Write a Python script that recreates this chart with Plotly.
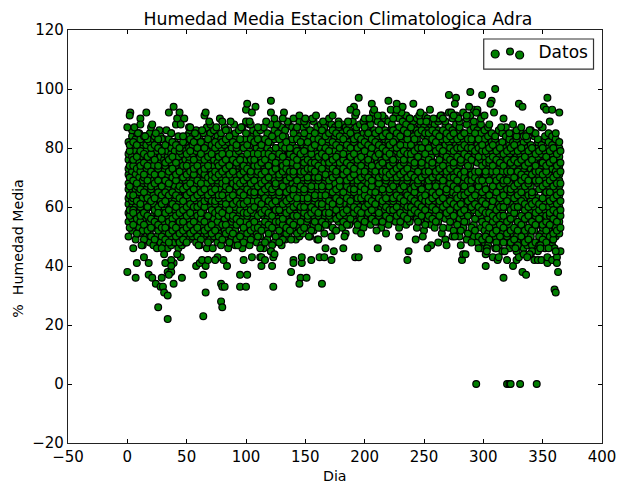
import plotly.graph_objects as go

# Points that can be told apart at the edge of the cloud (day, % humidity)
dias_arriba = [2.5,2,0,6,11,11,16,21,27,24,37,35,39,44,42,48,45,53,65,66,69,78,80,87,100,101,108,105,100,103,121,121,132,124,131,140,145,150,
               159,173,195,191,188,193,206,208,204,211,220,227,232,222,227,241,247,255,266,275,271,277,276,288,289,299,307,306,310,295,294,301,309,317,330,333,354,351,353,358,364,356,347,325,332,339]
humedad_arriba = [92,91,87,87,90,88,92,88,86,85,85,92,94,92,90,90,88,87,91,92,89,90,89,89,93,95,94,92,89,89,96,92,92,90,90,90,91,90,
                  91,91,97,94,93,92,95,93,90,91,96,95,94,93,93,95,92,93,90,91,98,97,95,94,99,98,96,95,100,93,92,91,92,90,95,94,97,94,93,93,92,89,88,88,87,86]
dias_abajo = [0,7,8,5,14,18,18,21,24,28,30,31,34,26,34,29,34,37,35,39,46,39,32,31,37,37,45,42,58,61,63,66,64,66,64,68,76,74,81,84,79,80,82,79,80,98,95,100,95,101,105,113,113,116,122,121,123,124,123,138,140,140,147,147,146,145,151,155,
              162,166,164,172,174,167,182,192,195,211,236,237,253,269,282,283,285,302,302,303,308,312,313,317,320,325,328,330,334,333,336,339,337,343,346,349,354,354,354,358,362,362,363,360,361,365,361,348,355,311]
humedad_abajo = [38,36,41,46,43,41,37,36,34,33,33,31,30,26,22,36,38,38,37,34,36,41,41,44,42,40,43,44,40,41,42,40,37,31,23,42,43,42,42,40,34,33,33,28,26,42,33,33,37,37,43,40,43,42,40,45,43,44,33,38,42,41,41,43,36,34,36,42,
                 43,43,34,42,45,46,46,43,43,46,42,45,46,47,42,44,44,44,40,45,43,42,43,36,42,40,42,43,44,38,37,44,43,42,42,42,42,41,43,42,43,41,38,32,31,45,45,46,46,46]
dias_cero = [294,320,322,323,331,345]
humedad_cero = [0,0,0,0,0,0]

# Scattered points just outside the solid core
dias_borde = [4,9,15,20,26,33,41,47,52,57,63,70,75,83,90,96,104,110,117,126,135,143,149,156,165,170,178,186,192,200,207,215,224,231,238,246,252,258,264,273,279,286,292,298,305,315,322,328,336,344,350,
              12,29,50,60,72,86,93,112,128,138,153,161,176,183,197,210,218,229,243,249,256,262,268,276,281,290,296,303,318,327,341,348,360]
humedad_borde = [86,85,84,87,83,86,88,84,87,85,86,88,87,86,88,87,88,87,89,88,89,87,89,90,89,90,88,89,91,90,92,91,90,92,90,91,89,90,91,92,90,91,93,90,88,87,85,86,84,85,87,
                 47,46,48,47,46,48,47,46,48,49,50,49,52,50,51,52,51,50,49,50,47,48,49,50,47,48,46,46,45,46,45,47,46]

# Dense core: estimated values, one row per sampled day
dias_nucleo = [1,4,7,10,13,16,19,22,25,28,31,34,37,40,43,46,49,52,55,58,61,64,67,70,73,76,79,82,85,88,91,94,97,100,103,106,109,112,115,118,121,
               124,127,130,133,136,139,142,145,148,151,154,157,160,163,166,169,172,175,178,181,184,187,190,193,196,199,202,205,208,211,214,217,220,223,226,229,232,235,238,241,
               244,247,250,253,256,259,262,265,268,271,274,277,280,283,286,289,292,295,298,301,304,307,310,313,316,319,322,325,328,331,334,337,340,343,346,349,352,355,358,361,364]
humedad_nucleo = [
[50,55,58,61,63,66,68,71,73,76,78,82],[52,56,60,62,65,67,70,72,75,77,80,84],[49,54,57,60,64,66,69,71,74,76,79,83],[51,53,58,62,65,68,70,73,75,78,81,85],
[47,52,56,59,63,67,69,72,74,77,80,82],[50,54,59,61,64,66,71,73,76,79,81,84],[48,51,55,60,62,65,68,70,75,77,82,85],[47,53,57,61,64,67,69,72,74,78,80,83],
[46,50,56,58,63,66,70,71,76,79,81,82],[48,52,54,59,62,65,68,73,75,77,80,84],[47,51,55,60,61,64,67,70,72,76,78,83],[46,49,53,57,62,66,69,71,74,77,79,81],
[47,50,54,58,60,63,68,72,75,78,80,85],[48,52,55,59,62,65,67,70,73,76,79,82],[46,49,53,56,61,64,66,69,74,77,81,84],[47,51,54,57,60,63,68,71,73,75,78,80],
[48,50,55,58,62,65,69,72,76,79,82,83],[49,52,56,60,63,66,70,73,75,77,80,85],[50,53,57,59,61,67,69,71,74,78,81,84],[48,51,55,58,62,65,68,72,76,79,82,86],
[47,52,54,60,63,66,70,73,75,77,80,83],[50,53,56,59,64,67,69,71,74,78,82,85],[46,51,55,61,62,65,68,72,76,79,81,87],[49,52,57,60,63,66,70,73,75,77,83,85],
[50,54,56,59,64,68,71,74,76,78,80,86],[48,53,55,61,65,67,69,72,75,79,82,84],[47,51,57,60,62,66,70,73,77,80,83,85],[49,52,56,58,63,65,68,71,74,78,81,87],
[46,54,57,61,64,67,69,72,76,79,82,86],[50,53,55,59,62,66,70,74,75,77,80,84],[47,52,58,60,65,68,71,73,76,78,83,85],[48,50,54,57,63,66,69,72,74,79,81,86],
[46,51,56,59,62,67,70,73,75,77,82,87],[49,53,55,60,64,65,68,71,76,80,83,85],[47,54,57,61,63,66,69,74,77,79,81,88],[50,52,56,58,62,67,72,73,75,78,84,86],
[48,51,55,60,65,68,70,71,76,80,82,85],[43,50,54,59,63,66,69,73,77,79,83,86],[46,53,57,61,64,67,71,74,75,78,81,87],[49,52,56,60,62,65,68,72,76,80,84,85],
[45,51,55,58,63,68,70,73,75,79,82,88],[48,53,57,60,64,66,69,71,77,78,83,86],[50,54,56,61,62,67,72,74,76,80,85,88],[47,52,58,59,65,68,70,73,75,79,81,87],
[49,51,55,60,63,66,71,72,77,80,84,86],[50,53,57,61,64,67,69,74,76,78,82,88],[52,54,56,59,62,68,70,73,75,81,83,87],[49,55,58,60,65,67,71,72,78,80,85,86],
[50,53,57,62,64,66,69,74,76,79,84,89],[51,54,56,61,63,68,70,73,77,81,83,87],[53,55,58,60,65,67,72,75,78,80,85,88],[50,56,59,62,64,69,71,74,76,82,84,86],
[52,54,57,61,66,68,70,73,77,79,83,89],[49,55,60,63,65,67,72,75,78,81,85,87],[53,56,58,62,64,69,71,74,76,80,84,88],[51,57,59,61,66,68,73,75,79,82,86,87],
[54,55,60,63,65,70,72,76,77,81,83,89],[50,56,58,62,67,69,71,74,78,80,85,88],[52,57,61,64,66,68,73,75,79,83,84,87],[55,58,60,63,65,70,72,76,78,82,86,89],
[53,56,59,62,67,69,74,75,80,81,85,88],[51,57,61,64,66,71,73,77,79,83,84,87],[54,58,60,65,68,70,72,76,78,82,86,88],[56,59,62,63,67,69,74,75,80,84,85,89],
[52,55,61,64,66,71,73,77,79,81,86,87],[55,57,60,65,68,70,72,76,78,83,84,88],[53,58,62,63,67,69,74,75,80,82,85,89],[56,59,61,64,66,72,73,77,79,84,86,87],
[54,57,60,65,68,71,75,76,78,81,85,88],[58,59,62,63,67,70,73,74,80,83,86,90],[55,56,61,66,69,72,75,77,79,82,84,89],[53,58,60,64,68,70,73,76,78,85,87,88],
[56,59,62,65,67,71,74,75,81,83,86,90],[54,57,61,63,69,72,76,77,79,82,85,89],[58,60,64,66,68,70,73,78,80,84,87,88],[55,59,62,65,67,71,75,76,81,83,86,91],
[53,57,61,64,69,72,74,77,79,85,87,90],[56,58,60,66,68,70,73,78,80,82,84,89],[54,59,63,65,67,71,75,76,81,86,88,91],[55,57,62,64,69,72,74,77,79,83,85,90],
[58,60,61,66,68,73,76,78,80,84,87,89],[53,56,63,65,70,71,74,75,82,83,86,90],[55,59,62,64,67,72,77,79,81,85,88,89],[52,57,60,66,69,73,75,76,80,84,87,91],
[56,58,63,65,68,70,74,78,82,83,86,90],[54,59,61,67,71,72,76,77,79,85,88,89],[53,57,62,64,69,73,75,80,81,84,87,88],[55,60,63,66,68,70,74,78,82,86,89,90],
[51,58,61,65,67,72,76,77,80,83,85,91],[56,59,62,64,70,73,75,79,81,84,88,89],[53,57,60,66,69,71,74,78,82,85,87,92],[50,55,63,65,68,72,76,77,80,83,86,90],
[52,58,61,64,67,70,75,79,81,84,88,91],[50,56,59,66,69,73,74,78,82,86,87,89],[53,57,62,65,68,71,76,77,80,83,85,92],[49,55,60,63,70,72,75,79,81,84,88,90],
[51,58,61,64,67,73,74,78,82,85,86,91],[50,54,59,66,69,71,76,77,80,83,87,89],[48,56,62,65,68,70,75,79,81,84,86,92],[46,53,57,60,63,67,72,76,78,82,85,88],
[48,52,55,59,64,68,70,74,77,80,83,86],[47,51,56,61,65,66,71,73,78,81,84,87],[49,53,58,60,62,69,72,75,76,79,82,85],[46,50,54,57,63,67,70,74,77,80,83,84],
[47,52,56,59,61,65,68,73,75,78,81,86],[45,51,55,58,62,66,71,72,76,79,82,85],[48,50,53,60,64,67,69,74,77,80,84,87],[46,49,54,57,63,68,70,73,75,78,81,83],
[47,51,56,59,61,65,72,74,76,79,82,85],[45,50,53,58,62,66,69,71,77,80,83,84],[48,52,55,60,64,67,70,73,75,78,81,86],[46,49,54,57,63,65,68,72,76,79,82,84],
[47,51,56,58,61,66,71,74,77,80,83,85],[44,50,53,59,62,67,69,73,75,78,81,86],[46,52,55,60,64,65,70,72,76,79,84,85],[45,48,54,57,63,68,71,74,77,80,82,83],
[47,51,56,58,61,66,69,73,75,78,81,87],[46,50,53,59,62,64,70,72,76,79,83,84],[48,52,55,60,63,67,71,74,77,80,82,85],[47,49,54,57,61,65,68,73,75,78,81,84],
[50,53,56,59,62,66,70,72,76,79,83,85],[51,55,58,60,64,67,69,71,74,77,80,82]]

# Second estimated layer between the rows above, to close the gaps in the core
dias_relleno = [2,5,8,11,14,17,20,23,26,29,32,35,38,41,44,47,50,53,56,59,62,65,68,71,74,77,80,83,86,89,92,95,98,101,104,107,110,113,116,119,122,
                125,128,131,134,137,140,143,146,149,152,155,158,161,164,167,170,173,176,179,182,185,188,191,194,197,200,203,206,209,212,215,218,221,224,227,230,233,236,239,242,
                245,248,251,254,257,260,263,266,269,272,275,278,281,284,287,290,293,296,299,302,305,308,311,314,317,320,323,326,329,332,335,338,341,344,347,350,353,356,359,362,365]
humedad_relleno = [
[53,57,59,64,67,70,74,79,81],[54,59,63,64,69,74,76,82,58],[51,56,62,67,68,73,77,81,85],[55,60,61,66,72,74,79,83,57],
[49,54,58,65,70,71,75,78,84],[52,57,63,68,69,74,77,83,60],[50,53,62,66,67,72,78,80,56],[49,55,59,63,68,71,76,81,84],
[52,54,60,65,69,73,74,80,58],[50,56,61,64,67,71,79,83,53],[49,53,58,62,69,74,75,81,65],[48,55,59,64,68,72,76,83,51],
[52,56,61,65,70,73,77,82,54],[50,57,60,64,69,71,75,81,53],[48,51,58,63,67,72,79,80,55],[49,55,59,62,66,70,74,82,52],
[53,57,60,64,67,71,74,78,84],[51,54,58,61,65,68,72,79,83],[52,55,60,63,66,71,73,76,82],[50,53,57,60,64,69,74,80,84],
[49,56,58,61,65,68,72,78,82],[52,55,60,62,66,71,73,76,80],[48,53,57,63,64,70,74,77,83],[51,54,59,62,65,69,71,78,81],
[52,58,61,62,66,70,72,80,82],[50,57,59,63,64,71,74,77,81],[49,54,58,64,68,72,75,78,82],[51,54,60,61,67,69,73,76,83],
[48,52,59,63,66,71,74,78,84],[51,56,57,61,64,68,72,76,82],[49,54,56,62,67,69,75,80,81],[50,55,59,61,65,68,71,76,83],
[48,53,58,61,64,69,72,74,80],[51,57,58,62,66,70,73,78,81],[49,52,59,65,68,71,72,76,83],[53,55,60,64,65,69,74,76,82],
[50,53,57,62,67,72,74,78,83],[47,52,58,61,65,68,71,75,81],[48,55,59,63,66,69,72,76,83],[51,54,58,62,67,70,74,78,82],
[47,53,57,61,65,66,72,77,84],[50,55,59,62,67,68,73,75,80],[52,55,59,64,65,70,71,78,83],[49,54,56,61,67,72,74,77,84],
[51,53,58,62,65,69,73,75,82],[52,55,59,63,66,70,72,78,80],[54,57,60,64,66,71,72,77,85],[51,57,61,63,69,74,76,79,83],
[52,55,59,60,67,71,72,78,82],[53,58,60,65,66,72,75,79,85],[56,57,62,63,69,70,73,76,82],[52,58,60,66,67,73,75,78,80],
[55,59,63,64,70,72,75,81,85],[53,57,58,61,69,70,74,77,83],[55,60,61,66,67,73,78,82,86],[54,58,63,64,70,71,77,80,84],
[57,58,62,67,69,74,75,79,85],[53,60,61,65,70,73,76,82,86],[56,59,63,66,71,72,77,81,85],[57,61,62,67,69,74,75,80,84],
[55,58,64,65,71,73,76,78,83],[54,59,63,67,69,72,75,81,86],[56,61,62,66,70,74,77,80,85],[58,60,65,66,71,73,78,82,83],
[54,59,63,68,69,75,76,80,84],[56,58,63,67,70,74,77,81,83],[55,60,64,66,71,72,79,82,87],[58,61,63,68,70,75,76,81,85],
[56,59,62,67,69,73,74,80,83],[55,61,64,65,71,72,77,82,85],[57,58,63,68,70,74,78,81,86],[55,61,62,66,71,72,75,80,84],
[57,60,63,69,70,72,77,79,85],[56,59,65,66,71,74,78,81,84],[59,62,63,67,72,75,76,82,86],[57,60,64,69,70,73,79,80,85],
[55,58,63,66,71,74,78,81,84],[57,61,62,67,72,75,76,79,86],[56,60,64,69,70,73,78,83,85],[58,60,63,66,71,76,78,81,87],
[59,62,65,67,70,74,75,79,83],[55,58,61,68,69,72,77,80,85],[57,60,63,66,70,74,75,80,86],[54,59,62,64,71,72,78,82,85],
[57,61,62,67,69,72,76,80,85],[56,60,63,65,70,74,75,83,86],[55,59,64,67,71,72,79,82,85],[57,61,62,65,70,73,76,80,84],
[53,60,63,67,69,74,78,79,86],[58,61,65,66,71,72,77,83,85],[55,59,62,68,70,73,76,80,84],[52,57,61,67,70,74,75,79,85],
[54,60,63,66,69,72,77,80,83],[52,58,61,64,71,75,76,80,84],[55,59,64,67,70,72,78,81,85],[51,57,62,65,69,74,77,80,83],
[53,60,63,66,69,71,76,80,83],[52,56,61,64,70,72,78,79,85],[50,58,60,67,69,72,77,80,83],[49,55,59,62,65,69,74,79,81],
[50,54,58,61,66,71,72,75,79],[49,53,58,63,64,69,75,76,80],[51,55,57,62,66,67,74,77,81],[48,52,56,59,65,69,72,76,79],
[50,54,57,60,63,67,70,75,80],[48,53,57,60,64,68,69,74,78],[50,51,55,62,66,69,72,76,79],[48,52,56,59,65,66,72,75,80],
[49,53,58,60,63,67,70,76,81],[47,52,55,60,64,68,72,75,79],[50,54,57,62,65,69,71,76,80],[48,52,56,59,61,67,70,74,77],
[49,53,57,60,64,68,69,75,79],[47,52,55,61,64,65,71,76,80],[48,54,57,58,62,69,72,74,78],[47,50,56,59,61,66,69,72,79],
[49,53,54,60,63,67,71,75,80],[48,52,55,57,65,68,72,74,77],[50,54,57,58,62,65,69,75,79],[49,51,56,59,63,67,70,76,80],
[52,55,58,61,64,68,71,74,78],[53,57,59,62,65,68,72,75,79]]

titulo = "Humedad Media Estacion Climatologica Adra"
etiqueta_x = "Dia"
etiqueta_y = "%  Humedad Media"
nombre_serie = "Datos"

x = []
y = []
for dias, filas in ((dias_nucleo, humedad_nucleo), (dias_relleno, humedad_relleno)):
    for dia, valores in zip(dias, filas):
        for v in valores:
            x.append(dia)
            y.append(v)
x += dias_borde + dias_arriba + dias_abajo + dias_cero
y += humedad_borde + humedad_arriba + humedad_abajo + humedad_cero

FONT = "DejaVu Sans"
W, H = 617, 485
L, R, T, B = 67.5, 602.5, 30, 442.7

fig = go.Figure(go.Scatter(
    x=x, y=y, mode="markers", name=nombre_serie, showlegend=True,
    marker=dict(color="#007f00", size=6.8, line=dict(color="black", width=1.2)),
))

def eje(rango, paso):
    return dict(range=rango, dtick=paso, tick0=0, showgrid=False, zeroline=False, automargin=False,
                ticks="inside", ticklen=4, tickwidth=1, tickcolor="black",
                showline=True, linecolor="#222222", linewidth=1.2, mirror="ticks",
                tickfont=dict(family=FONT, size=15, color="black"))

def px_x(px):
    return (px - L) / (R - L)

def px_y(py):
    return (B - py) / (B - T)

def circulo(px, py):
    r = 4
    return dict(type="circle", xref="paper", yref="paper",
                x0=px_x(px - r), x1=px_x(px + r), y0=px_y(py + r), y1=px_y(py - r),
                fillcolor="#007f00", line=dict(color="black", width=1.2), layer="above")

caja_leyenda = dict(type="rect", xref="paper", yref="paper",
                    x0=px_x(484), x1=px_x(594), y0=px_y(69), y1=px_y(39),
                    fillcolor="white", line=dict(color="#333333", width=1.2), layer="above")

fig.update_layout(
    width=W, height=H, autosize=False,
    paper_bgcolor="white", plot_bgcolor="white",
    margin=dict(l=L, r=W - R, t=T, b=H - B, pad=0, autoexpand=False),
    title=dict(text=titulo, x=338 / W, xanchor="center", y=1 - 19 / H, yanchor="middle", automargin=False,
               font=dict(family=FONT, size=17.3, color="black")),
    xaxis=eje([-50, 400], 50),
    yaxis=eje([-20, 120], 20),
    legend=dict(x=px_x(594), xanchor="right", y=px_y(34), yanchor="top",
                bgcolor="rgba(0,0,0,0)", borderwidth=0,
                font=dict(family=FONT, size=17, color="black"), itemwidth=47),
    shapes=[caja_leyenda, circulo(495.5, 54), circulo(520, 55)],
    annotations=[
        dict(text=etiqueta_x, xref="paper", yref="paper", x=px_x(335), y=px_y(476),
             xanchor="center", yanchor="middle", showarrow=False, font=dict(family=FONT, size=14.2, color="black")),
        dict(text=etiqueta_y, xref="paper", yref="paper", x=px_x(18), y=px_y(248),
             xanchor="center", yanchor="middle", textangle=-90, showarrow=False,
             font=dict(family=FONT, size=14.2, color="black")),
    ],
)
fig.write_html("out.html", config={"displayModeBar": False}, post_script="document.body.style.margin='0';")
